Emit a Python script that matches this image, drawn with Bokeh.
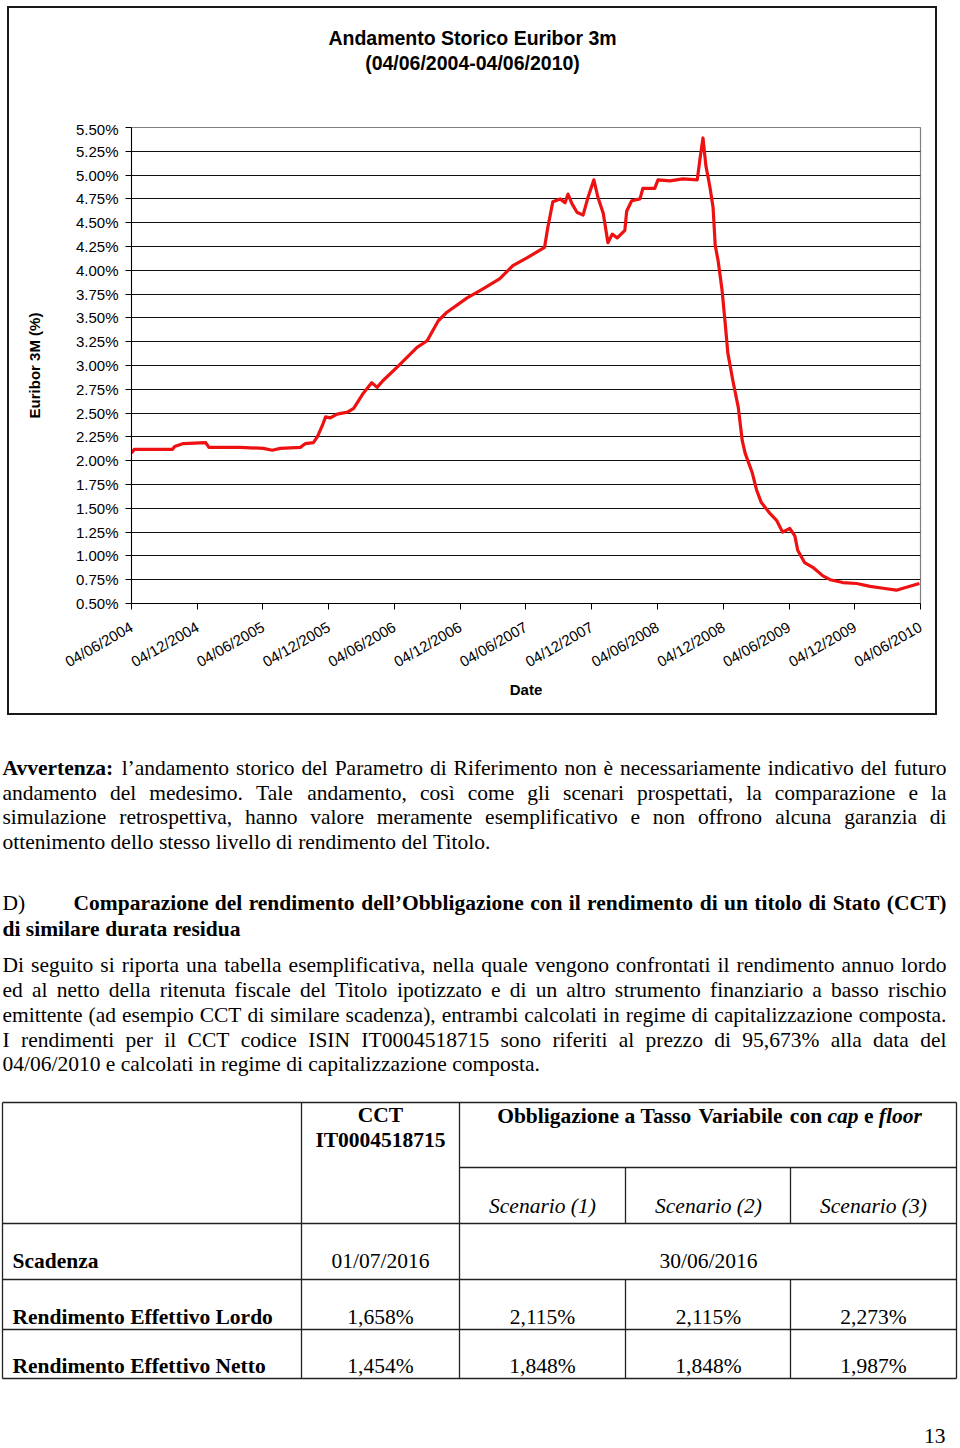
import datetime as dt
from bokeh.plotting import figure
from bokeh.models import (Range1d, FixedTicker, DatetimeTickFormatter, CustomJSTickFormatter)
from bokeh.layouts import column
from bokeh.core.properties import value
from bokeh.embed import file_html
from bokeh.resources import INLINE

# ---------------- chart data ----------------
dates = ["2004-06-04", "2004-06-12", "2004-09-26", "2004-10-02", "2004-10-26", "2004-12-27",
         "2005-01-05", "2005-04-01", "2005-06-05", "2005-06-30", "2005-07-22", "2005-09-16",
         "2005-09-30", "2005-10-22", "2005-11-02", "2005-11-16", "2005-11-25", "2005-12-08",
         "2005-12-27", "2006-01-25", "2006-02-11", "2006-03-08", "2006-04-02", "2006-04-17",
         "2006-05-03", "2006-06-11", "2006-08-06", "2006-09-03", "2006-10-04", "2006-10-28",
         "2006-12-23", "2007-01-29", "2007-03-23", "2007-04-29", "2007-06-07", "2007-07-26",
         "2007-08-04", "2007-08-18", "2007-09-07", "2007-09-21", "2007-09-29", "2007-10-10",
         "2007-10-24", "2007-11-10", "2007-11-24", "2007-12-10", "2007-12-21", "2008-01-05",
         "2008-01-18", "2008-01-30", "2008-02-13", "2008-03-05", "2008-03-10", "2008-03-24",
         "2008-04-16", "2008-04-24", "2008-05-27", "2008-06-05", "2008-07-08", "2008-08-13",
         "2008-09-22", "2008-09-30", "2008-10-08", "2008-10-16", "2008-10-27", "2008-11-05",
         "2008-11-11", "2008-11-19", "2008-11-30", "2008-12-08", "2008-12-16", "2008-12-30",
         "2009-01-14", "2009-01-25", "2009-02-02", "2009-02-22", "2009-03-06", "2009-03-19",
         "2009-04-11", "2009-05-01", "2009-05-17", "2009-06-06", "2009-06-20", "2009-06-28",
         "2009-07-17", "2009-08-09", "2009-09-06", "2009-09-26", "2009-10-31", "2009-12-09",
         "2010-01-15", "2010-02-20", "2010-03-29", "2010-04-26", "2010-06-01"]
euribor = [2.08, 2.12, 2.12, 2.15, 2.18, 2.19, 2.14, 2.14, 2.13, 2.11, 2.13, 2.14,
           2.18, 2.19, 2.25, 2.37, 2.46, 2.45, 2.49, 2.51, 2.55, 2.70, 2.82, 2.77,
           2.84, 2.98, 3.19, 3.26, 3.47, 3.56, 3.71, 3.79, 3.91, 4.05, 4.13, 4.24,
           4.45, 4.72, 4.75, 4.71, 4.80, 4.70, 4.61, 4.58, 4.77, 4.95, 4.77, 4.60,
           4.29, 4.38, 4.34, 4.42, 4.62, 4.73, 4.75, 4.86, 4.86, 4.95, 4.94, 4.96,
           4.95, 5.18, 5.39, 5.10, 4.88, 4.66, 4.26, 4.10, 3.79, 3.47, 3.13, 2.84,
           2.56, 2.21, 2.08, 1.87, 1.69, 1.56, 1.45, 1.37, 1.25, 1.29, 1.21, 1.06,
           0.93, 0.88, 0.79, 0.75, 0.72, 0.71, 0.68, 0.66, 0.64, 0.67, 0.71]
tick_labels = ["04/06/2004", "04/12/2004", "04/06/2005", "04/12/2005", "04/06/2006",
               "04/12/2006", "04/06/2007", "04/12/2007", "04/06/2008", "04/12/2008",
               "04/06/2009", "04/12/2009", "04/06/2010"]
y_ticks = [0.50, 0.75, 1.00, 1.25, 1.50, 1.75, 2.00, 2.25, 2.50, 2.75, 3.00,
           3.25, 3.50, 3.75, 4.00, 4.25, 4.50, 4.75, 5.00, 5.25, 5.50]
chart_title = "Andamento Storico Euribor 3m"
chart_subtitle = "(04/06/2004-04/06/2010)"
x_title = "Date"
y_title = "Euribor 3M (%)"

# ---------------- page text ----------------
para1 = [
    [("bold", "Avvertenza:"), ("normal", "l’andamento storico del Parametro di Riferimento non è necessariamente indicativo del futuro")],
    [("normal", "andamento del medesimo. Tale andamento, così come gli scenari prospettati, la comparazione e la")],
    [("normal", "simulazione retrospettiva, hanno valore meramente esemplificativo e non offrono alcuna garanzia di")],
    [("normal", "ottenimento dello stesso livello di rendimento del Titolo.")],
]
heading_mark = "D)"
heading = [
    [("bold", "Comparazione del rendimento dell’Obbligazione con il rendimento di un titolo di Stato (CCT)")],
    [("bold", "di similare durata residua")],
]
para2 = [
    [("normal", "Di seguito si riporta una tabella esemplificativa, nella quale vengono confrontati il rendimento annuo lordo")],
    [("normal", "ed al netto della ritenuta fiscale del Titolo ipotizzato e di un altro strumento finanziario a basso rischio")],
    [("normal", "emittente (ad esempio CCT di similare scadenza), entrambi calcolati in regime di capitalizzazione composta.")],
    [("normal", "I rendimenti per il CCT codice ISIN IT0004518715 sono riferiti al prezzo di 95,673% alla data del")],
    [("normal", "04/06/2010 e calcolati in regime di capitalizzazione composta.")],
]
cct_header = ["CCT", "IT0004518715"]
bond_header = [("bold", "Obbligazione a Tasso Variabile con"), ("bold italic", "cap"),
               ("bold", "e"), ("bold italic", "floor")]
scenarios = ["Scenario (1)", "Scenario (2)", "Scenario (3)"]
row_labels = ["Scadenza", "Rendimento Effettivo Lordo", "Rendimento Effettivo Netto"]
scadenza = ["01/07/2016", "30/06/2016"]
lordo = ["1,658%", "2,115%", "2,115%", "2,273%"]
netto = ["1,454%", "1,848%", "1,848%", "1,987%"]
page_number = "13"

# ---------------- boxed chart area (page pixels) ----------------
BOX_X0, BOX_X1 = 9, 935          # inner edges of the framed box
BOX_Y0, TITLE_Y1, BOX_Y1 = 8, 120, 713
FL, FR, FT, FB = 131, 920, 127, 603   # plot frame in page pixels

# title strip
t = figure(width=BOX_X1 - BOX_X0, height=TITLE_Y1 - BOX_Y0,
           x_range=Range1d(BOX_X0, BOX_X1), y_range=Range1d(TITLE_Y1, BOX_Y0),
           output_backend="svg", toolbar_location=None, min_border=0,
           x_axis_location=None, y_axis_location=None,
           background_fill_color="white", border_fill_color="white")
t.outline_line_color = None
t.xgrid.grid_line_color = None
t.ygrid.grid_line_color = None
t.frame_align = False
t.text(x=[472, 472], y=[37, 62], text=[chart_title, chart_subtitle],
       text_font=value("Liberation Sans"), text_font_size="19.5px", text_font_style="bold",
       text_align="center", text_baseline="middle", text_color="black")

# chart
xs = [dt.datetime.strptime(d, "%Y-%m-%d") for d in dates]
tick_dates = [dt.datetime.strptime(s, "%d/%m/%Y") for s in tick_labels]
EPOCH = dt.datetime(1970, 1, 1)
tick_ms = [(d - EPOCH).total_seconds() * 1000.0 for d in tick_dates]

p = figure(width=BOX_X1 - BOX_X0, height=BOX_Y1 - TITLE_Y1, x_axis_type="datetime",
           output_backend="svg", toolbar_location=None,
           x_range=Range1d(tick_dates[0], tick_dates[-1]),
           y_range=Range1d(y_ticks[0], y_ticks[-1]),
           min_border_left=FL - BOX_X0, min_border_right=BOX_X1 - FR,
           min_border_top=FT - TITLE_Y1, min_border_bottom=BOX_Y1 - FB,
           background_fill_color="white", border_fill_color="white")
p.frame_align = False

p.line(xs, euribor, line_color="#ee1111", line_width=3.2, line_join="round")

p.xaxis.ticker = FixedTicker(ticks=tick_ms)
p.xaxis.formatter = DatetimeTickFormatter(days="%d/%m/%Y", months="%d/%m/%Y", years="%d/%m/%Y")
p.yaxis.ticker = FixedTicker(ticks=y_ticks)
p.yaxis.formatter = CustomJSTickFormatter(code="return tick.toFixed(2) + '%';")

for ax in (p.xaxis[0], p.yaxis[0]):
    ax.axis_line_color = "black"
    ax.axis_line_width = 1
    ax.major_tick_line_color = "black"
    ax.minor_tick_line_color = None
    ax.major_tick_out = 6
    ax.major_tick_in = 0
    ax.major_label_text_font = "Liberation Sans"
    ax.major_label_text_color = "black"
    ax.axis_label_text_font = "Liberation Sans"
    ax.axis_label_text_font_size = "15px"
    ax.axis_label_text_font_style = "bold"
    ax.axis_label_text_color = "black"

p.yaxis.major_label_text_font_size = "15px"
p.xaxis.major_label_text_font_size = "15px"
p.xaxis.axis_label = x_title
p.yaxis.axis_label = y_title
p.xaxis.major_label_orientation = 0.52
p.xaxis.major_label_standoff = 16
p.yaxis.major_label_standoff = 7
p.yaxis.axis_label_standoff = 30
p.xaxis.axis_label_standoff = 0

p.xgrid.grid_line_color = None
p.ygrid.grid_line_color = "#111111"
p.ygrid.grid_line_width = 1.2
p.outline_line_color = "#808080"
p.outline_line_width = 1.2

boxed = column(t, p, spacing=0, margin=(6, 0, 15, 7),
               styles={"border": "2px solid #1a1a1a"})

# ---------------- text / table part ----------------
TOP = 730
TX_H = 1448 - TOP
FS = 21.5


def _mk(lower, upper, extra):
    d = dict(zip("abcdefghijklmnopqrstuvwxyz", lower))
    d.update(zip("ABCDEFGHIJKLMNOPQRSTUVWXYZ", upper))
    d.update({c: 500 for c in "0123456789"})
    d.update(extra)
    return d


METRICS = {
    "normal": _mk([444, 500, 444, 500, 444, 333, 500, 500, 278, 278, 500, 278, 778, 500, 500, 500, 500, 333, 389, 278, 500, 500, 722, 500, 500, 444],
                  [722, 667, 667, 722, 611, 556, 722, 722, 333, 389, 722, 611, 889, 722, 722, 556, 722, 667, 556, 611, 722, 722, 944, 722, 722, 611],
                  {" ": 250, ".": 250, ",": 250, ":": 278, ";": 278, "(": 333, ")": 333, "%": 833, "/": 278, "’": 333, "è": 444, "ì": 278, "-": 333}),
    "bold": _mk([500, 556, 444, 556, 444, 333, 500, 556, 278, 333, 556, 278, 833, 556, 500, 556, 556, 444, 389, 333, 556, 500, 722, 500, 500, 444],
                [722, 667, 722, 722, 667, 611, 778, 778, 389, 500, 778, 667, 944, 722, 778, 611, 778, 722, 556, 667, 722, 722, 1000, 722, 722, 667],
                {" ": 250, ".": 250, ",": 250, ":": 333, "(": 333, ")": 333, "%": 1000, "/": 278, "’": 333, "-": 333}),
    "italic": _mk([500, 500, 444, 500, 444, 278, 500, 500, 278, 278, 444, 278, 722, 500, 500, 500, 500, 389, 389, 278, 500, 444, 667, 444, 444, 389],
                  [611, 611, 667, 722, 611, 611, 722, 722, 333, 444, 667, 556, 833, 667, 722, 611, 722, 611, 500, 556, 722, 611, 833, 611, 556, 556],
                  {" ": 250, ".": 250, ",": 250, "(": 333, ")": 333, "%": 833}),
    "bold italic": _mk([500, 500, 444, 500, 444, 333, 500, 556, 278, 278, 500, 278, 778, 556, 500, 500, 500, 389, 389, 278, 556, 444, 667, 500, 444, 389],
                       [667, 667, 667, 722, 667, 667, 722, 778, 389, 500, 667, 611, 889, 722, 722, 611, 722, 667, 556, 611, 722, 667, 889, 667, 611, 611],
                       {" ": 250, ".": 250, ",": 250, "(": 333, ")": 333}),
}


def tw(word, style):
    tab = METRICS[style]
    return sum(tab.get(c, 500) for c in word) * FS / 1000.0


left_items = {k: [] for k in METRICS}
center_items = {k: [] for k in METRICS}


def base(cy):
    return cy - 0.5 - TOP


def flow(segments, x0, cy, x1=None, justify=False, center=None):
    words = [(w, st) for st, txt in segments for w in txt.split()]
    widths = [tw(w, st) for w, st in words]
    gap = 250 * FS / 1000.0
    if justify and len(words) > 1:
        gap = (x1 - x0 - sum(widths)) / (len(words) - 1)
    if center is not None:
        total = sum(widths) + gap * (len(words) - 1)
        x0 = center - total / 2.0
    x = x0
    for (w, st), wd in zip(words, widths):
        left_items[st].append((x, base(cy), w))
        x += wd + gap


p1_y = [768, 793, 817, 842]
for i, (segs, cy) in enumerate(zip(para1, p1_y)):
    flow(segs, 2, cy, 946, justify=(i < len(para1) - 1))

left_items["normal"].append((2, base(903), heading_mark))
flow(heading[0], 73, 903, 946, justify=True)
flow(heading[1], 2, 929)

p2_y = [965, 990, 1015, 1040, 1064]
for i, (segs, cy) in enumerate(zip(para2, p2_y)):
    flow(segs, 2, cy, 946, justify=(i < len(para2) - 1))

col_c = [380, 542, 708, 873]
center_items["bold"].append((col_c[0], base(1115), cct_header[0]))
center_items["bold"].append((col_c[0], base(1140), cct_header[1]))
flow(bond_header, 0, 1116, center=709)
for c, s in zip(col_c[1:], scenarios):
    center_items["italic"].append((c, base(1206), s))
left_items["bold"].append((12, base(1261), row_labels[0]))
center_items["normal"].append((col_c[0], base(1261), scadenza[0]))
center_items["normal"].append((col_c[2], base(1261), scadenza[1]))
left_items["bold"].append((12, base(1317), row_labels[1]))
for c, s in zip(col_c, lordo):
    center_items["normal"].append((c, base(1317), s))
left_items["bold"].append((12, base(1366), row_labels[2]))
for c, s in zip(col_c, netto):
    center_items["normal"].append((c, base(1366), s))

q = figure(width=960, height=TX_H, x_range=Range1d(0, 960), y_range=Range1d(TX_H, 0),
           output_backend="svg", toolbar_location=None, min_border=0,
           x_axis_location=None, y_axis_location=None,
           background_fill_color="white", border_fill_color="white")
q.outline_line_color = None
q.xgrid.grid_line_color = None
q.ygrid.grid_line_color = None
q.frame_align = False

hl = [(1102, 2, 956), (1167, 459, 956), (1223, 2, 956), (1279, 2, 956), (1329, 2, 956), (1378, 2, 956)]
vl = [(2, 1102, 1378), (956, 1102, 1378), (301, 1102, 1378), (459, 1102, 1378),
      (625, 1167, 1223), (625, 1279, 1378), (790, 1167, 1223), (790, 1279, 1378)]
sx0 = [a for _, a, _ in hl] + [x for x, _, _ in vl]
sx1 = [b for _, _, b in hl] + [x for x, _, _ in vl]
sy0 = [y - TOP for y, _, _ in hl] + [a - TOP for _, a, _ in vl]
sy1 = [y - TOP for y, _, _ in hl] + [b - TOP for _, _, b in vl]
q.segment(sx0, sy0, sx1, sy1, line_color="#222222", line_width=1.3)

for align, groups in (("left", left_items), ("center", center_items)):
    for st, lst in groups.items():
        if not lst:
            continue
        q.text(x=[a for a, _, _ in lst], y=[b for _, b, _ in lst], text=[s for _, _, s in lst],
               text_font=value("Liberation Serif"), text_font_size=f"{FS}px",
               text_font_style=st, text_align=align, text_baseline="alphabetic",
               text_color="black")

q.text(x=[945], y=[1435 - TOP], text=[page_number], text_font=value("Liberation Serif"),
       text_font_size=f"{FS}px", text_align="right", text_baseline="middle", text_color="black")

layout = column(boxed, q, spacing=0)
open("out.html", "w").write(file_html(layout, INLINE))
